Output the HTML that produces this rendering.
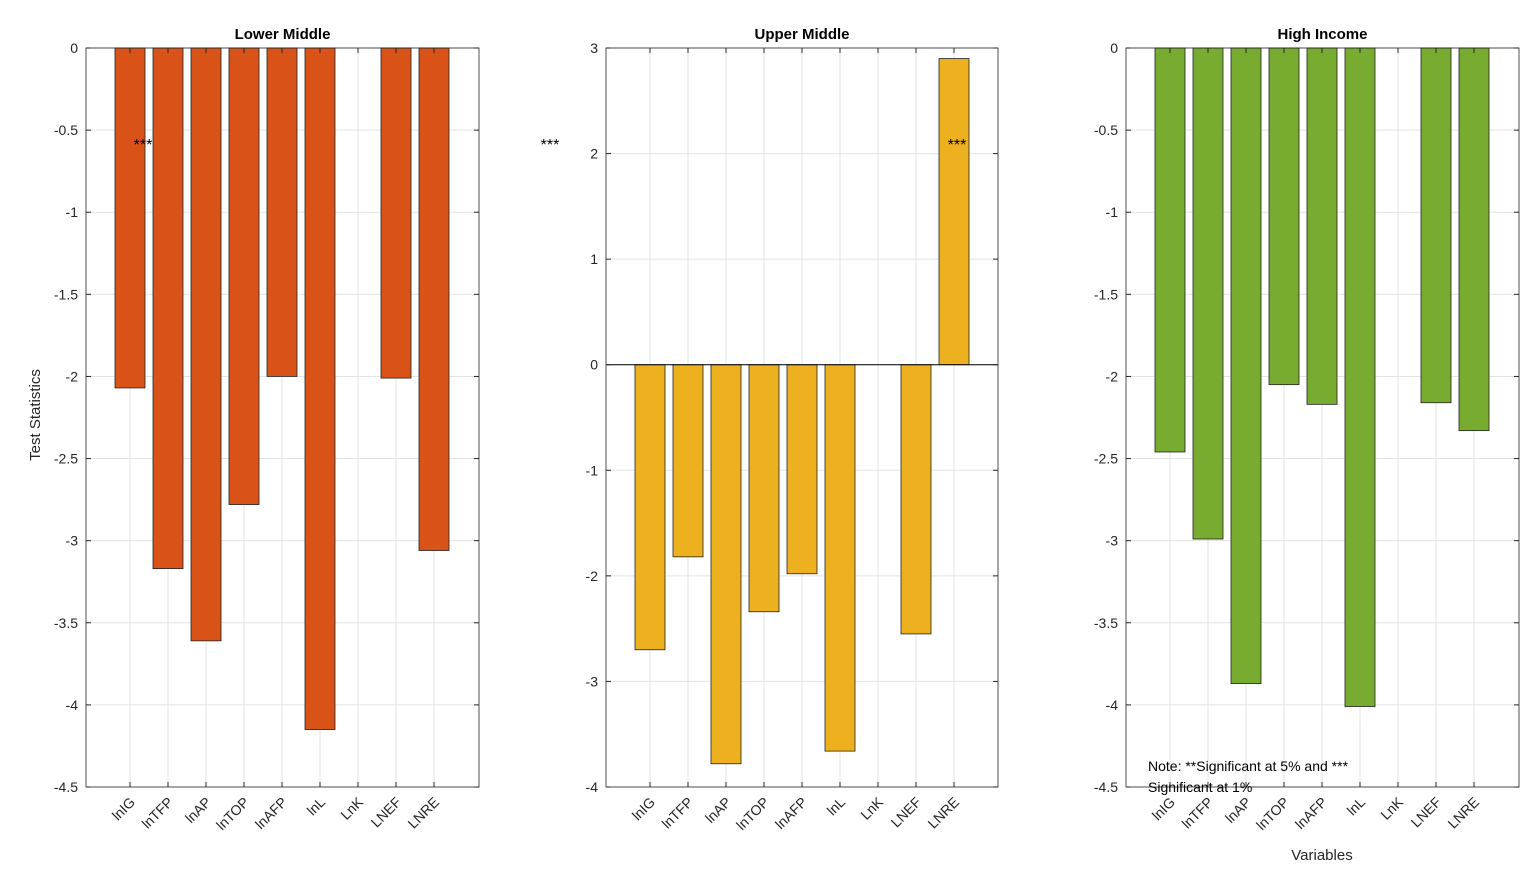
<!DOCTYPE html>
<html><head><meta charset="utf-8"><style>
body{margin:0;background:#fff;}
svg{display:block;font-family:"Liberation Sans",Arial,sans-serif;}
</style></head><body>
<svg id="chart" width="1532" height="873"></svg>
<script>
const categories=["lnIG","lnTFP","lnAP","lnTOP","lnAFP","lnL","LnK","LNEF","LNRE"];
const lowerMiddle=[-2.07,-3.17,-3.61,-2.78,-2.0,-4.15,null,-2.01,-3.06];
const upperMiddle=[-2.7,-1.82,-3.78,-2.34,-1.98,-3.66,null,-2.55,2.9];
const highIncome=[-2.46,-2.99,-3.87,-2.05,-2.17,-4.01,null,-2.16,-2.33];
const ticksA=[0,-0.5,-1,-1.5,-2,-2.5,-3,-3.5,-4,-4.5];
const ticksB=[3,2,1,0,-1,-2,-3,-4];
const titles=["Lower Middle","Upper Middle","High Income"];
const NS="http://www.w3.org/2000/svg";
const svg=document.getElementById('chart');
function mk(tag,attrs,parent){const e=document.createElementNS(NS,tag);for(const k in attrs)e.setAttribute(k,attrs[k]);(parent||svg).appendChild(e);return e;}
const panels=[
 {x0:86,x1:479,ymax:0,ymin:-4.5,ticks:ticksA,data:lowerMiddle,color:"#D95319",name:"lower-middle"},
 {x0:606,x1:998,ymax:3,ymin:-4,ticks:ticksB,data:upperMiddle,color:"#EDB120",name:"upper-middle"},
 {x0:1126,x1:1519,ymax:0,ymin:-4.5,ticks:ticksA,data:highIncome,color:"#77AC30",name:"high-income"}];
const Y0=48,Y1=787;
panels.forEach((p,pi)=>{
 const g=mk('g',{});
 
 
 const ys=v=>Y0+(p.ymax-v)/(p.ymax-p.ymin)*(Y1-Y0);
 const xs=i=>p.x0+44+38*i;
 // grid
 p.ticks.forEach(t=>{const l=mk('line',{x1:p.x0,x2:p.x1,y1:ys(t),y2:ys(t),stroke:"#e3e3e3","stroke-width":1},g);
  });
 categories.forEach((c,i)=>{const l=mk('line',{x1:xs(i),x2:xs(i),y1:Y0,y2:Y1,stroke:"#e3e3e3","stroke-width":1},g);
  });
 // bars
 p.data.forEach((v,i)=>{if(v===null)return;
  const y=Math.min(ys(v),ys(0)),h=Math.abs(ys(v)-ys(0));
  const r=mk('rect',{x:xs(i)-15,y:y,width:30,height:h,fill:p.color,stroke:"#222","stroke-width":0.8},g);
  });
 if(p.ymax>0){const z=mk('line',{x1:p.x0,x2:p.x1,y1:ys(0),y2:ys(0),stroke:"#000","stroke-width":1},g);
  }
 // axes box
 const b=mk('rect',{x:p.x0,y:Y0,width:p.x1-p.x0,height:Y1-Y0,fill:"none",stroke:"#262626","stroke-width":0.8},g);
 
 p.ticks.forEach(t=>{
  mk('line',{x1:p.x0,x2:p.x0+5,y1:ys(t),y2:ys(t),stroke:"#262626"},g);
  mk('line',{x1:p.x1,x2:p.x1-5,y1:ys(t),y2:ys(t),stroke:"#262626"},g);
  const tx=mk('text',{x:p.x0-8,y:ys(t)+5,"text-anchor":"end","font-size":14,fill:"#262626"},g);
  tx.textContent=t;});
 categories.forEach((c,i)=>{
  mk('line',{x1:xs(i),x2:xs(i),y1:Y1,y2:Y1-5,stroke:"#262626"},g);
  mk('line',{x1:xs(i),x2:xs(i),y1:Y0,y2:Y0+5,stroke:"#262626"},g);
  const tx=mk('text',{x:xs(i)+6,y:Y1+16,"text-anchor":"end","font-size":14,fill:"#262626",transform:`rotate(-45 ${xs(i)+6} ${Y1+16})`},g);
  tx.textContent=c;});
 const tt=mk('text',{x:(p.x0+p.x1)/2,y:39,"text-anchor":"middle","font-size":15,"font-weight":"bold",fill:"#000"},g);
 tt.textContent=titles[pi];
});
function txt(x,y,s,name,extra){const t=mk('text',Object.assign({x:x,y:y,"font-size":14,fill:"#262626"},extra||{}));t.textContent=s;
 return t;}
txt(143,150,"***","significance-marker",{"text-anchor":"middle","font-size":16,fill:"#000"});
txt(550,150,"***","significance-marker",{"text-anchor":"middle","font-size":16,fill:"#000"});
txt(957,150,"***","significance-marker",{"text-anchor":"middle","font-size":16,fill:"#000"});
txt(40,415,"Test Statistics","y-axis-title",{"text-anchor":"middle",transform:"rotate(-90 40 415)","font-size":15});
txt(1322,860,"Variables","x-axis-title",{"text-anchor":"middle","font-size":15});
txt(1148,771,"Note: **Significant at 5% and ***","note-text",{fill:"#000"});
txt(1148,792,"Significant at 1%","note-text",{fill:"#000"});
</script>
</body></html>
